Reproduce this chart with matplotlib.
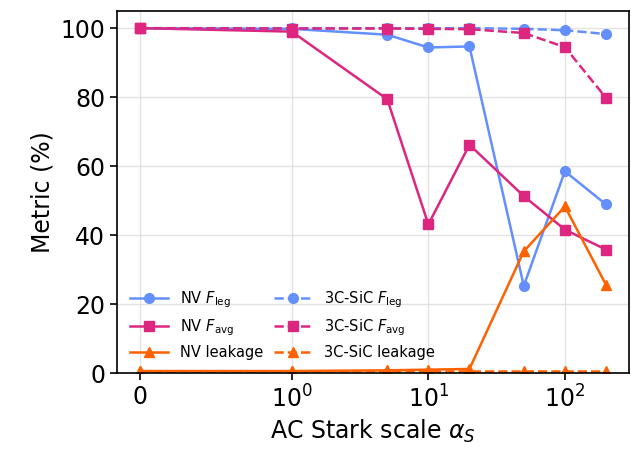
import matplotlib
matplotlib.use("Agg")
import matplotlib.pyplot as plt

# AC Stark scale sweep
alpha_s = [0, 1, 5, 10, 20, 50, 100, 200]

# NV centre results (%)
nv_f_leg = [100.0, 99.8, 98.1, 94.4, 94.7, 25.3, 58.5, 48.9]
nv_f_avg = [100.0, 99.0, 79.4, 43.1, 66.2, 51.3, 41.6, 35.8]
nv_leak = [0.6, 0.6, 0.8, 1.0, 1.2, 35.3, 48.3, 25.6]

# 3C-SiC results (%)
sic_f_leg = [100.0, 100.0, 100.0, 100.0, 100.0, 99.8, 99.4, 98.3]
sic_f_avg = [100.0, 99.9, 99.9, 99.8, 99.7, 98.6, 94.5, 79.8]
sic_leak = [0.5, 0.5, 0.5, 0.5, 0.5, 0.5, 0.5, 0.5]

BLUE = "#648FFF"
PINK = "#DC267F"
ORANGE = "#FE6100"

fig, ax = plt.subplots(figsize=(6.35, 4.55), dpi=100)
fig.subplots_adjust(left=0.184, right=0.991, bottom=0.180, top=0.976)

kw = dict(lw=1.8, ms=7)
ax.plot(alpha_s, nv_f_leg, "-o", color=BLUE, label=r"NV $F_{\rm leg}$", **kw)
ax.plot(alpha_s, nv_f_avg, "-s", color=PINK, label=r"NV $F_{\rm avg}$", **kw)
ax.plot(alpha_s, nv_leak, "-^", color=ORANGE, label="NV leakage", **kw)
ax.plot(alpha_s, sic_f_leg, "--o", color=BLUE, label=r"3C-SiC $F_{\rm leg}$", **kw)
ax.plot(alpha_s, sic_f_avg, "--s", color=PINK, label=r"3C-SiC $F_{\rm avg}$", **kw)
ax.plot(alpha_s, sic_leak, "--^", color=ORANGE, label="3C-SiC leakage", **kw)

ax.set_xscale("symlog", linthresh=1)
ax.set_ylim(0, 105)
ax.set_xlabel(r"AC Stark scale $\alpha_S$", fontsize=17)
ax.set_ylabel("Metric (%)", fontsize=17)
ax.tick_params(labelsize=17, width=1.2, length=5)
for sp in ax.spines.values():
    sp.set_linewidth(1.2)
ax.grid(True, color="#dddddd", lw=1, alpha=0.8)
ax.set_axisbelow(True)

ax.legend(loc="lower left", ncol=2, frameon=False, fontsize=10.5,
          bbox_to_anchor=(0.0, 0.0), columnspacing=0.8, handlelength=2.6)

plt.savefig("out.png")
